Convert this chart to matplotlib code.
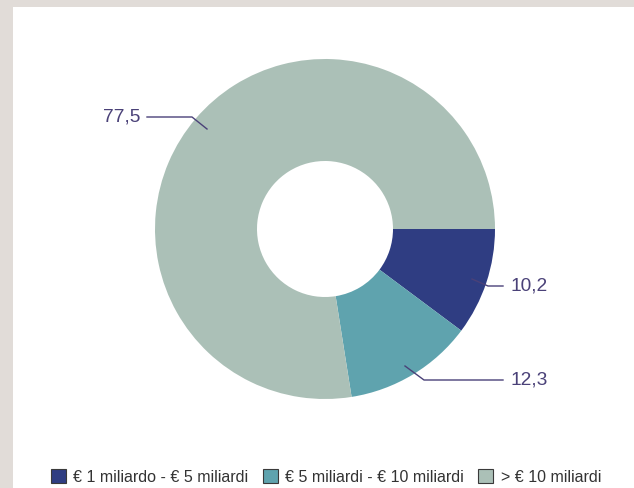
import numpy as np
import matplotlib.pyplot as plt
from matplotlib.patches import Rectangle, Patch

plt.rcParams.update({
    'font.family': ['Liberation Sans', 'DejaVu Sans'],
})

# Data
categories = ['€ 1 miliardo - € 5 miliardi', '€ 5 miliardi - € 10 miliardi', '> € 10 miliardi']
values = [10.2, 12.3, 77.5]
value_labels = ['10,2', '12,3', '77,5']
colors = ['#2f3d82', '#5fa3ae', '#abc0b7']

LABEL_COLOR = '#4a4178'
W, H = 634, 488

fig = plt.figure(figsize=(W / 100, H / 100), dpi=100)
fig.patch.set_facecolor('#e1dcd8')
# white panel (grey frame only on left and top)
bg = fig.add_axes([13 / W, 0, 1 - 13 / W, 1 - 7 / H], zorder=-5)
bg.set_facecolor('white')
bg.axis('off')
bg.add_patch(Rectangle((0, 0), 1, 1, transform=bg.transAxes, facecolor='white',
                       edgecolor='none'))

# pie axes: centre (325, 229) px, radius 170 px
R = 170
cx, cy = 325, 229
ax = fig.add_axes([(cx - R) / W, 1 - (cy + R) / H, 2 * R / W, 2 * R / H])
ax.set_facecolor('none')
wedges, _ = ax.pie(values, colors=colors, startangle=0, counterclock=False,
                   radius=1.0, wedgeprops=dict(width=0.6, edgecolor='none'))
ax.set_xlim(-1, 1)
ax.set_ylim(-1, 1)
ax.set_aspect('equal')
ax.axis('off')

# leader lines, in pixel units converted to data units
def px(x, y):
    return ((x - cx) / R, (cy - y) / R)

leaders = [
    ([(472, 279), (488, 286), (503, 286)], (511, 286), 'left'),
    ([(405, 366), (424, 380), (503, 380)], (511, 380), 'left'),
    ([(207, 129), (192, 117), (147, 117)], (140, 117), 'right'),
]
for (pts, lpos, ha), lab in zip(leaders, value_labels):
    xs, ys = zip(*[px(*p) for p in pts])
    ax.plot(xs, ys, color=LABEL_COLOR, lw=1.0, clip_on=False)
    lx, ly = px(*lpos)
    ax.text(lx, ly, lab, ha=ha, va='center', fontsize=13.8, color=LABEL_COLOR,
            clip_on=False)

handles = [Patch(facecolor=c, edgecolor='#3a3a3a', linewidth=0.8) for c in colors]
fig.legend(handles, categories, loc='center', bbox_to_anchor=(326 / W, 1 - 477 / H),
           ncol=3, frameon=False, fontsize=11.5, handlelength=0.95, handleheight=0.95,
           handletextpad=0.45, columnspacing=0.9, labelcolor='#333333')

fig.savefig('out.png', dpi=100, facecolor=fig.get_facecolor())
